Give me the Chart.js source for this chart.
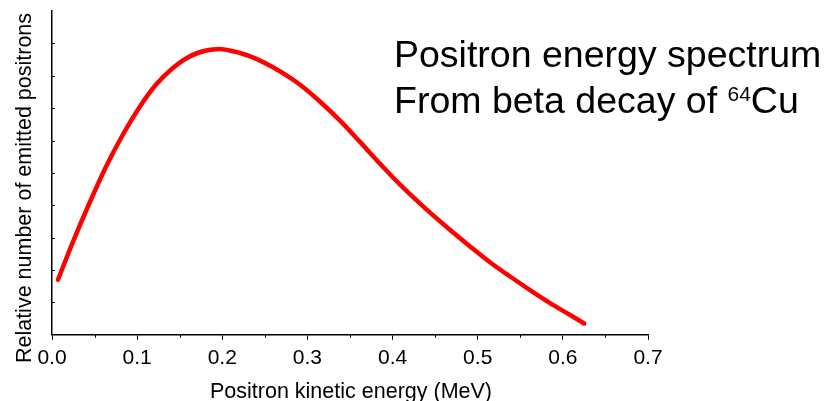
<!DOCTYPE html>
<html>
<head>
<meta charset="utf-8">
<script src="https://cdn.jsdelivr.net/npm/chart.js@4"></script>
<style>
  html, body { margin: 0; padding: 0; background: #fff; }
  #wrap { width: 824px; height: 401px; }
</style>
</head>
<body>
<div id="wrap"><canvas id="grafico-espectro" width="824" height="401"></canvas></div>
<script>
// energia cinética do pósitron (MeV) e número relativo (unidades arbitrárias 0-10)
const energia = [0.007, 0.024, 0.044, 0.063, 0.083, 0.102, 0.122, 0.142, 0.161, 0.181, 0.196,
  0.220, 0.240, 0.259, 0.279, 0.291, 0.314, 0.338, 0.362, 0.385, 0.408, 0.432,
  0.467, 0.491, 0.514, 0.538, 0.561, 0.585, 0.608, 0.625];
const contagem = [1.70, 2.83, 4.07, 5.17, 6.17, 7.00, 7.72, 8.24, 8.59, 8.78, 8.83,
  8.71, 8.52, 8.27, 7.95, 7.73, 7.22, 6.62, 5.95, 5.29, 4.66, 4.06,
  3.25, 2.73, 2.25, 1.80, 1.39, 0.98, 0.62, 0.35];
const ticksX = [0, 0.1, 0.2, 0.3, 0.4, 0.5, 0.6, 0.7];
const ticksMenoresX = [0.05, 0.15, 0.25, 0.35, 0.45, 0.55, 0.65];
const ticksY = [1, 2, 3, 4, 5, 6, 7, 8, 9];

const tituloX = 'Positron kinetic energy (MeV)';
const tituloY = 'Relative number of emitted positrons';
const linha1 = 'Positron energy spectrum';
const linha2 = 'From beta decay of ';
const sobrescrito = '64';
const elemento = 'Cu';

const fonte = '"Liberation Sans", Arial, sans-serif';

const pontos = energia.map((e, i) => ({ x: e, y: contagem[i] }));

// desenha ticks menores, titulos dos eixos e o texto grande
const textosExtras = {
  id: 'textosExtras',
  afterDraw(chart) {
    const ctx = chart.ctx;
    const sx = chart.scales.x;
    const sy = chart.scales.y;
    ctx.save();
    ctx.strokeStyle = '#000';
    ctx.lineWidth = 1;
    ctx.beginPath();
    ticksMenoresX.forEach(v => {
      const px = Math.round(sx.getPixelForValue(v)) + 0.5;
      ctx.moveTo(px, sy.bottom);
      ctx.lineTo(px, sy.bottom + 3);
    });
    ticksY.forEach(v => {
      const py = Math.round(sy.getPixelForValue(v)) + 0.5;
      ctx.moveTo(sx.left, py);
      ctx.lineTo(sx.left + 3, py);
    });
    ctx.stroke();

    ctx.fillStyle = '#000';
    ctx.font = '21.5px ' + fonte;
    ctx.textAlign = 'center';
    ctx.textBaseline = 'alphabetic';
    ctx.fillText(tituloX, 351, 398);

    ctx.save();
    ctx.translate(31, 188);
    ctx.rotate(-Math.PI / 2);
    ctx.fillText(tituloY, 0, 0);
    ctx.restore();

    ctx.textAlign = 'left';
    ctx.font = '37.5px ' + fonte;
    ctx.fillText(linha1, 394, 67);
    ctx.fillText(linha2, 394, 113);
    let x = 394 + ctx.measureText(linha2).width;
    ctx.font = '21px ' + fonte;
    ctx.fillText(sobrescrito, x, 101);
    x += ctx.measureText(sobrescrito).width;
    ctx.font = '37.5px ' + fonte;
    ctx.fillText(elemento, x, 113);
    ctx.restore();
  }
};

const ctxEspectro = document.getElementById('grafico-espectro').getContext('2d');
const graficoEspectro = new Chart(ctxEspectro, {
  type: 'line',
  data: {
    datasets: [{
      label: 'Espectro',
      data: pontos,
      borderColor: '#FF0000',
      borderWidth: 4.5,
      borderCapStyle: 'round',
      borderJoinStyle: 'round',
      pointRadius: 0,
      cubicInterpolationMode: 'monotone',
      fill: false
    }]
  },
  options: {
    responsive: false,
    animation: false,
    devicePixelRatio: 1,
    layout: {
      padding: { left: 44, right: 176, top: 11, bottom: 24 }
    },
    plugins: {
      legend: { display: false },
      tooltip: { enabled: false },
      title: { display: false }
    },
    scales: {
      x: {
        type: 'linear',
        min: 0,
        max: 0.7,
        afterBuildTicks: (axis) => { axis.ticks = ticksX.map(v => ({ value: v })); },
        grid: {
          display: true,
          drawOnChartArea: false,
          tickLength: 5,
          color: '#000',
          lineWidth: 1
        },
        border: { display: true, color: '#000', width: 1.5 },
        ticks: {
          color: '#000',
          padding: 6,
          maxRotation: 0,
          autoSkip: false,
          font: { family: fonte, size: 21 },
          callback: (v) => Number(v).toFixed(1)
        }
      },
      y: {
        min: 0,
        max: 10,
        grid: { display: false },
        border: { display: true, color: '#000', width: 1.5 },
        ticks: { display: false }
      }
    }
  },
  plugins: [textosExtras]
});
</script>
</body>
</html>
